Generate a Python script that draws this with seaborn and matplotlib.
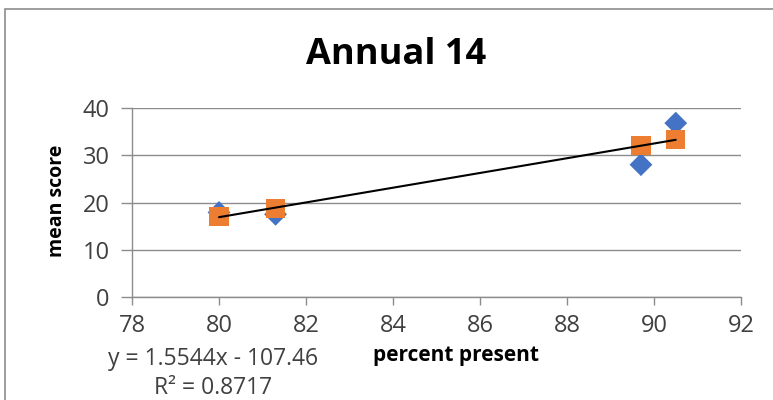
import numpy as np
import pandas as pd
import matplotlib
matplotlib.use("Agg")
import matplotlib.pyplot as plt
import seaborn as sns
from matplotlib.patches import Rectangle

# data
pct_blue = [80.0, 81.3, 89.7, 90.5]
score_blue = [17.9, 17.5, 28.0, 36.8]
pct_orange = [80.0, 81.3, 89.7, 90.5]
score_orange = [17.0, 18.8, 32.0, 33.3]
x_ticks = [78, 80, 82, 84, 86, 88, 90, 92]
y_ticks = [0, 10, 20, 30, 40]
eq_text = "y = 1.5544x - 107.46"
r2_text = "R\u00b2 = 0.8717"

sns.set_style("white")
plt.rcParams['font.family'] = ['Open Sans', 'DejaVu Sans']

fig = plt.figure(figsize=(7.73, 4.0), dpi=100)
ax = fig.add_axes([132 / 773, 1 - 297 / 400, (741 - 132) / 773, (297 - 108) / 400])

df_b = pd.DataFrame({'pct': pct_blue, 'score': score_blue})
df_o = pd.DataFrame({'pct': pct_orange, 'score': score_orange})

sns.scatterplot(data=df_b, x='pct', y='score', marker='D', s=135, color='#4472C4',
                edgecolor='none', ax=ax, zorder=3)
sns.scatterplot(data=df_o, x='pct', y='score', marker='s', s=190, color='#ED7D31',
                edgecolor='none', ax=ax, zorder=4)

# linear trendline on the orange series
slope, intercept = np.polyfit(pct_orange, score_orange, 1)
xs = np.array([min(pct_orange), max(pct_orange)])
ax.plot(xs, slope * xs + intercept, color='black', lw=1.5, zorder=5)

ax.set_xlim(78, 92)
ax.set_ylim(0, 40)
ax.set_xticks(x_ticks)
ax.set_yticks(y_ticks)
ax.yaxis.grid(True, color='#8c8c8c', lw=1)
ax.set_axisbelow(True)
for s in ['top', 'right']:
    ax.spines[s].set_visible(False)
for s in ['left', 'bottom']:
    ax.spines[s].set_color('#8c8c8c')
    ax.spines[s].set_linewidth(1)
ax.tick_params(axis='x', length=6, width=1, color='#8c8c8c', labelsize=17,
               labelcolor='#404040', pad=6, direction='out', bottom=True)
ax.tick_params(axis='y', length=8, width=1, color='#8c8c8c', labelsize=17,
               labelcolor='#404040', pad=8, direction='out', left=True)

ax.set_xlabel("")
ax.set_ylabel("")
fig.text(456 / 773, 1 - 355 / 400, "percent present", ha='center', va='center',
         fontsize=15, fontweight='bold', color='black')
fig.text(57 / 773, 1 - 201 / 400, "mean score", ha='center', va='center',
         rotation=90, fontsize=14, fontweight='bold', color='black')
fig.text(396 / 773, 1 - 55 / 400, "Annual 14", ha='center', va='center',
         fontsize=26, fontweight='bold', color='black')
fig.text(213 / 773, 1 - 359 / 400, eq_text, ha='center', va='center',
         fontsize=16.5, color='#404040')
fig.text(213 / 773, 1 - 388 / 400, r2_text, ha='center', va='center',
         fontsize=16.5, color='#404040')

# chart frame (cut off at the right and bottom)
fig.patches.append(Rectangle((5 / 773, -0.5), 2.0, 0.5 + 1 - 9 / 400,
                             transform=fig.transFigure, fill=False,
                             edgecolor='#8c8c8c', lw=1.2))

fig.savefig("out.png", dpi=100)
